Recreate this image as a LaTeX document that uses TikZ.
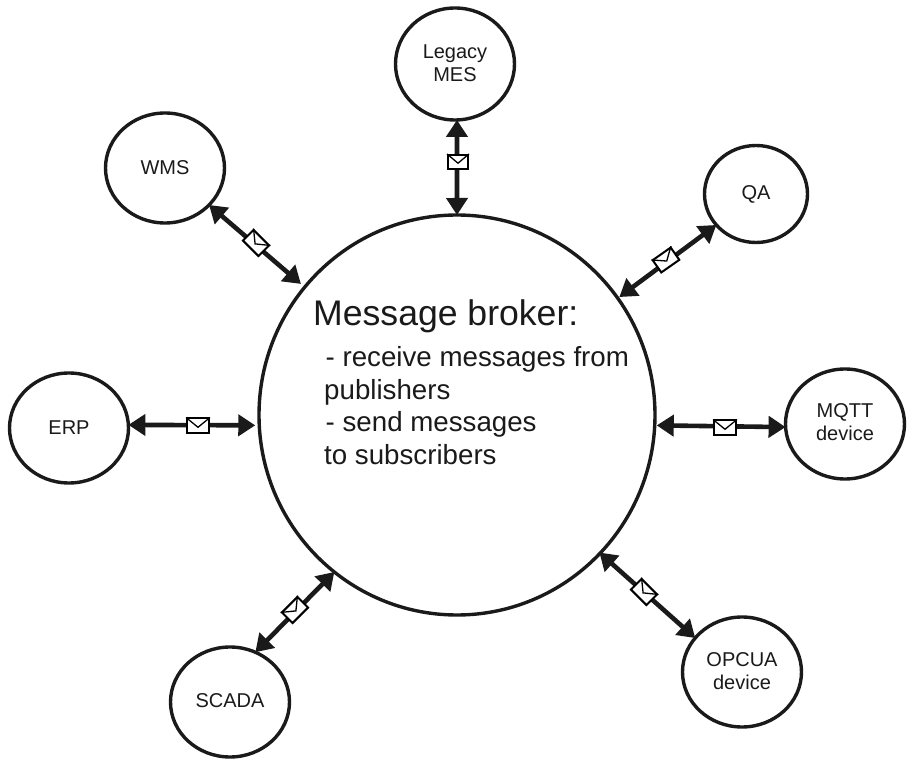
\documentclass[tikz,border=0pt]{standalone}
\usepackage{fontspec}
\setmainfont{Liberation Sans}
\usetikzlibrary{shapes.geometric,arrows.meta,calc}
\definecolor{ink}{HTML}{1A1A1A}
\newcommand{\lift}[2][2pt]{\raisebox{#1}{#2}}
\tikzset{
  x=1pt,y=-1pt,
  peer/.style={ellipse,draw=ink,line width=3.4pt,inner sep=0pt,outer sep=0pt,text=ink,align=center,
    font=\fontsize{20}{23}\selectfont},
  link/.style={line width=4.6pt,draw=ink,{Triangle[length=17pt,width=21pt]}-{Triangle[length=17pt,width=21pt]},shorten >=2pt},
  envelope/.style={rectangle,draw=black,line width=2pt,fill=white,minimum width=22pt,minimum height=15pt,inner sep=0pt},
  flap/.style={draw=black,line width=1.3pt,line join=miter},
  title/.style={anchor=base west,text=ink,inner sep=0pt,font=\fontsize{35.6}{40}\selectfont},
  body/.style={anchor=north west,text=ink,align=left,inner sep=0pt,font=\fontsize{27.7}{32.5}\selectfont},
}
\begin{document}
\begin{tikzpicture}
\useasboundingbox (0,0) rectangle (914,767);
\node[peer,minimum width=396pt,minimum height=400pt] (broker) at (457,415) {};
\node[title] (btitle) at (313,326) {Message broker:};
\node[body] (btext) at (324,346.5) {\hspace*{1.5pt}- receive messages from\\publishers\\\hspace*{1.5pt}- send messages\\to subscribers};
\node[peer,minimum width=119pt,minimum height=112pt] (legacy) at (455,64) {\lift{Legacy}\\\lift{MES}};
\node[peer,minimum width=119pt,minimum height=110pt] (wms) at (165,168) {WMS};
\node[peer,minimum width=103pt,minimum height=97pt] (qa) at (756,194) {\lift[-2pt]{QA}};
\node[peer,minimum width=119pt,minimum height=110pt] (erp) at (69,428) {ERP};
\node[peer,minimum width=119pt,minimum height=110pt] (mqtt) at (845,424) {\lift[3pt]{MQTT}\\\lift[3pt]{device}};
\node[peer,minimum width=119pt,minimum height=110pt] (opcua) at (742,672) {\lift{OPCUA}\\\lift{device}};
\node[peer,minimum width=119pt,minimum height=110pt] (scada) at (230,702) {\lift{SCADA}};
\draw[link,shorten >=0pt] (legacy.-88) -- (broker.90);
\draw[link,shorten >=5pt] (wms.-40) -- (broker.140);
\draw[link] (qa.-142) -- (broker.36.6);
\draw[link,shorten >=4pt] (erp.3.7) -- (broker.183);
\draw[link,shorten >=2pt] (mqtt.183) -- (broker.-3);
\draw[link,shorten >=-1pt] (opcua.144) -- (broker.-44);
\draw[link,shorten >=0pt] (scada.63) -- (broker.232);
\node[envelope,minimum width=20pt,minimum height=14pt] (e1) at (458,162) {};
\node[envelope,rotate=-45] (e2) at (256,243) {};
\node[envelope,rotate=35] (e3) at (666,260) {};
\node[envelope] (e4) at (198,426) {};
\node[envelope] (e5) at (725,428) {};
\node[envelope,rotate=-45] (e6) at (644,592) {};
\node[envelope,rotate=45] (e7) at (295,610) {};
\foreach \e in {e1,e2,e3,e4,e5,e6,e7}
  \draw[flap] (\e.north west) -- ($(\e.center)!0.15!(\e.south)$) -- (\e.north east);
\end{tikzpicture}
\end{document}
